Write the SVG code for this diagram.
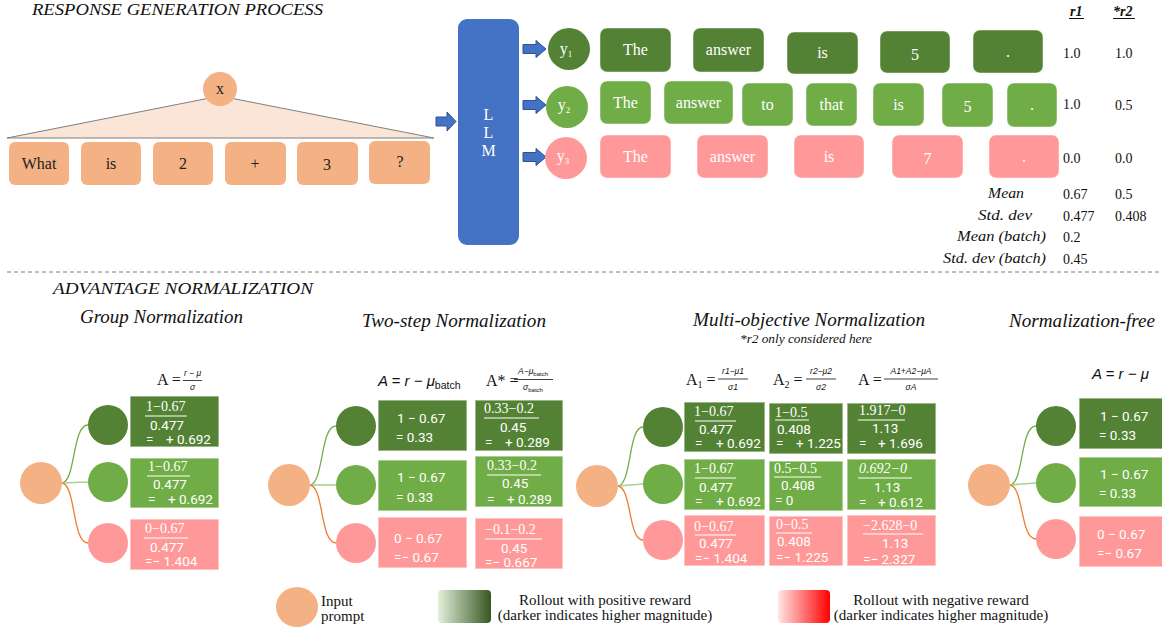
<svg xmlns="http://www.w3.org/2000/svg" width="1162" height="629" viewBox="0 0 1162 629">
<defs>
  <linearGradient id="gPos" x1="0" y1="0" x2="1" y2="0">
    <stop offset="0" stop-color="#E2F0D9"/>
    <stop offset="1" stop-color="#385723"/>
  </linearGradient>
  <linearGradient id="gNeg" x1="0" y1="0" x2="1" y2="0">
    <stop offset="0" stop-color="#FFE6E6"/>
    <stop offset="1" stop-color="#FF0000"/>
  </linearGradient>
</defs>
<style>
  .dg{fill:#548235}
  .lg{fill:#70AD47}
  .pk{fill:#FF9999}
  .or{fill:#F4B183}
  .tok{stroke:#ffffff;stroke-opacity:.45;stroke-width:1}
  .box{stroke:#ffffff;stroke-opacity:.55;stroke-width:1.5}
  .tt{font-family:"Liberation Serif","DejaVu Serif",serif;font-size:16px;fill:#fff;text-anchor:middle}
  .it{font-family:"Liberation Serif","DejaVu Serif",serif;font-size:16px;fill:#222;text-anchor:middle}
  .hd{font-family:"Liberation Serif","DejaVu Serif",serif;font-style:italic;fill:#111}
  .sv{font-family:"Liberation Serif","DejaVu Serif",serif;font-size:14px;fill:#111}
  .num{font-family:"Liberation Serif","DejaVu Serif",serif;font-size:14px;fill:#fff}
  .val{font-family:Roboto,"Liberation Sans",sans-serif;font-size:13.5px;fill:#fff}
  .fl{stroke:#ffffff;stroke-width:1}
  .fk{stroke:#111;stroke-width:.8}
  .fs{font-family:"Liberation Sans",sans-serif;font-style:italic;font-size:8.5px;fill:#111;text-anchor:middle}
  .fa{font-family:"Liberation Serif","DejaVu Serif",serif;font-size:16px;fill:#111}
  .fi{font-family:"Liberation Sans",sans-serif;font-style:italic;font-size:15px;fill:#111}
  .arr{fill:#4472C4;stroke:#2F528F;stroke-width:1}
  .cg{fill:none;stroke:#70AD47;stroke-width:1.3}
  .cm{fill:none;stroke:#A9D18E;stroke-width:1.6}
  .co{fill:none;stroke:#ED7D31;stroke-width:1.3}
  .lt{font-family:"Liberation Serif","DejaVu Serif",serif;font-size:15px;fill:#111}
</style>

<rect width="1162" height="629" fill="#ffffff"/>

<!-- ===== Response generation ===== -->
<text class="hd" x="32" y="15" font-size="17" textLength="291" lengthAdjust="spacingAndGlyphs">RESPONSE GENERATION PROCESS</text>

<g id="prompt-fan">
  <polygon points="7,138 220,96 434,138" fill="#FBE5D6" stroke="#7F7F7F" stroke-width="1"/>
</g>
<g id="node-x">
  <circle class="or" cx="220" cy="89" r="17"/>
  <text class="it" x="220" y="94">x</text>
</g>
<g id="prompt-tokens">
  <rect class="or" x="9" y="142" width="60" height="43" rx="6"/><text class="it" x="39" y="169">What</text>
  <rect class="or" x="81" y="142" width="60" height="43" rx="6"/><text class="it" x="111" y="169">is</text>
  <rect class="or" x="153" y="142" width="60" height="43" rx="6"/><text class="it" x="183" y="169">2</text>
  <rect class="or" x="225" y="142" width="61" height="43" rx="6"/><text class="it" x="255" y="169">+</text>
  <rect class="or" x="297" y="142" width="61" height="43" rx="6"/><text class="it" x="327" y="170">3</text>
  <rect class="or" x="369" y="141" width="61" height="43" rx="6"/><text class="it" x="400" y="167">?</text>
</g>

<g id="node-llm">
  <rect x="458" y="19" width="61" height="226" rx="9" fill="#4472C4"/>
  <text class="tt" x="488.5" y="120">L</text>
  <text class="tt" x="488.5" y="138">L</text>
  <text class="tt" x="488.5" y="156">M</text>
</g>

<g id="connectors-top">
  <polygon class="arr" points="436,117 447,117 447,112 456,121.5 447,131 447,126 436,126"/>
  <polygon class="arr" points="523,44.5 536,44.5 536,40.5 546,49 536,57.5 536,53.5 523,53.5"/>
  <polygon class="arr" points="523,100.5 536,100.5 536,96.5 546,105 536,113.5 536,109.5 523,109.5"/>
  <polygon class="arr" points="523,152.5 536,152.5 536,148.5 546,157 536,165.5 536,161.5 523,161.5"/>
</g>

<g id="node-y1">
  <circle class="dg" cx="569" cy="49" r="21"/>
  <text class="tt" x="566" y="54">y<tspan font-size="9" dy="3">1</tspan></text>
</g>
<g id="node-y2">
  <circle class="lg" cx="567" cy="107" r="21"/>
  <text class="tt" x="564" y="110">y<tspan font-size="9" dy="3">2</tspan></text>
</g>
<g id="node-y3">
  <circle class="pk" cx="566" cy="158" r="21"/>
  <text class="tt" x="563" y="161">y<tspan font-size="9" dy="3">3</tspan></text>
</g>

<g id="tokens-y1">
  <rect class="dg tok" x="600" y="28" width="71" height="44" rx="7"/><text class="tt" x="635.5" y="55">The</text>
  <rect class="dg tok" x="693" y="28" width="71" height="44" rx="7"/><text class="tt" x="728.5" y="55">answer</text>
  <rect class="dg tok" x="787" y="32" width="71" height="42" rx="7"/><text class="tt" x="822.5" y="58">is</text>
  <rect class="dg tok" x="880" y="31" width="70" height="42" rx="7"/><text class="tt" x="915" y="60">5</text>
  <rect class="dg tok" x="973" y="30" width="70" height="43" rx="7"/><text class="tt" x="1008" y="57">.</text>
</g>
<g id="tokens-y2">
  <rect class="lg tok" x="600" y="81" width="51" height="43" rx="7"/><text class="tt" x="625.5" y="108">The</text>
  <rect class="lg tok" x="664" y="81" width="69" height="43" rx="7"/><text class="tt" x="698.5" y="108">answer</text>
  <rect class="lg tok" x="742" y="83" width="51" height="43" rx="7"/><text class="tt" x="767.5" y="110">to</text>
  <rect class="lg tok" x="806" y="83" width="51" height="43" rx="7"/><text class="tt" x="831.5" y="110">that</text>
  <rect class="lg tok" x="873" y="83" width="51" height="43" rx="7"/><text class="tt" x="898.5" y="110">is</text>
  <rect class="lg tok" x="942" y="83" width="51" height="44" rx="7"/><text class="tt" x="967.5" y="112">5</text>
  <rect class="lg tok" x="1007" y="83" width="50" height="44" rx="7"/><text class="tt" x="1032" y="110">.</text>
</g>
<g id="tokens-y3">
  <rect class="pk tok" x="600" y="135" width="71" height="43" rx="7"/><text class="tt" x="635.5" y="162">The</text>
  <rect class="pk tok" x="697" y="135" width="71" height="43" rx="7"/><text class="tt" x="732.5" y="162">answer</text>
  <rect class="pk tok" x="794" y="135" width="70" height="43" rx="7"/><text class="tt" x="829" y="162">is</text>
  <rect class="pk tok" x="892" y="135" width="71" height="43" rx="7"/><text class="tt" x="927.5" y="164">7</text>
  <rect class="pk tok" x="989" y="135" width="70" height="43" rx="7"/><text class="tt" x="1024" y="162">.</text>
</g>

<g id="reward-table">
  <text class="sv" x="1070" y="16" font-weight="bold" font-style="italic">r1</text>
  <line x1="1069" y1="18.5" x2="1084" y2="18.5" stroke="#111" stroke-width="1"/>
  <text class="sv" x="1113" y="16" font-weight="bold" font-style="italic">*r2</text>
  <line x1="1113" y1="18.5" x2="1135" y2="18.5" stroke="#111" stroke-width="1"/>
  <text class="sv" x="1063" y="58">1.0</text><text class="sv" x="1115" y="58">1.0</text>
  <text class="sv" x="1063" y="109">1.0</text><text class="sv" x="1115" y="110">0.5</text>
  <text class="sv" x="1063" y="163">0.0</text><text class="sv" x="1115" y="163">0.0</text>
  <text class="sv" x="988" y="198" font-style="italic" font-size="15" textLength="36" lengthAdjust="spacingAndGlyphs">Mean</text>
  <text class="sv" x="978" y="220" font-style="italic" font-size="15" textLength="54" lengthAdjust="spacingAndGlyphs">Std. dev</text>
  <text class="sv" x="957" y="241" font-style="italic" font-size="15" textLength="89" lengthAdjust="spacingAndGlyphs">Mean (batch)</text>
  <text class="sv" x="943" y="263" font-style="italic" font-size="15" textLength="103" lengthAdjust="spacingAndGlyphs">Std. dev (batch)</text>
  <text class="sv" x="1063" y="199">0.67</text><text class="sv" x="1115" y="199">0.5</text>
  <text class="sv" x="1063" y="221">0.477</text><text class="sv" x="1115" y="221">0.408</text>
  <text class="sv" x="1063" y="242">0.2</text>
  <text class="sv" x="1063" y="264">0.45</text>
</g>

<line x1="7" y1="272" x2="1160" y2="272" stroke="#7F7F7F" stroke-width="1" stroke-dasharray="4,3"/>

<!-- ===== Advantage normalization ===== -->
<text class="hd" x="53" y="294" font-size="17" textLength="260" lengthAdjust="spacingAndGlyphs">ADVANTAGE NORMALIZATION</text>
<text class="hd" x="80" y="323" font-size="18" textLength="163" lengthAdjust="spacingAndGlyphs">Group Normalization</text>
<text class="hd" x="362" y="327" font-size="18" textLength="184" lengthAdjust="spacingAndGlyphs">Two-step Normalization</text>
<text class="hd" x="693" y="326" font-size="18" textLength="232" lengthAdjust="spacingAndGlyphs">Multi-objective Normalization</text>
<text class="hd" x="740" y="343" font-size="12" textLength="132" lengthAdjust="spacingAndGlyphs">*r2 only considered here</text>
<text class="hd" x="1009" y="327" font-size="18" textLength="146" lengthAdjust="spacingAndGlyphs">Normalization-free</text>

<!-- connectors of the four panels -->
<g id="connectors">
  <path class="cg" d="M62,483 C76,481 72,425 88,425"/>
  <path class="cm" d="M62,483 L88,482"/>
  <path class="co" d="M62,483 C76,485 72,543 88,543"/>

  <path class="cg" d="M310,485 C324,483 320,426 336,426"/>
  <path class="cm" d="M310,485 L336,485"/>
  <path class="co" d="M310,485 C324,487 320,543 336,543"/>

  <path class="cg" d="M618,486 C632,484 628,427 643,427"/>
  <path class="cm" d="M618,486 L643,484"/>
  <path class="co" d="M618,486 C632,488 628,540 643,540"/>

  <path class="cg" d="M1010,485 C1024,483 1020,426 1036,426"/>
  <path class="cm" d="M1010,485 L1036,483"/>
  <path class="co" d="M1010,485 C1024,487 1020,539 1036,539"/>
</g>

<!-- Group normalization -->
<g id="group-input"><circle class="or" cx="41" cy="483" r="21"/></g>
<g id="group-y1"><circle class="dg" cx="108" cy="425" r="20"/></g>
<g id="group-y2"><circle class="lg" cx="108" cy="482" r="20"/></g>
<g id="group-y3"><circle class="pk" cx="108" cy="543" r="20"/></g>
<g id="group-formula">
  <text class="fa" x="157" y="385">A =</text>
  <line class="fk" x1="183" y1="380.5" x2="202" y2="380.5"/>
  <text class="fs" x="192.5" y="376">r − μ</text>
  <text class="fs" x="192.5" y="390">σ</text>
</g>
<g id="group-a1">
  <rect class="dg box" x="130" y="396" width="89" height="51"/>
  <text class="num" x="146" y="411">1−0.67</text>
  <line class="fl" x1="145" y1="416" x2="187" y2="416"/>
  <text class="val" x="150" y="430">0.477</text>
  <text class="val" x="146" y="444">=</text><text class="val" x="166" y="444">+ 0.692</text>
</g>
<g id="group-a2">
  <rect class="lg box" x="130" y="458" width="89" height="50"/>
  <text class="num" x="148" y="471">1−0.67</text>
  <line class="fl" x1="147" y1="476" x2="190" y2="476"/>
  <text class="val" x="153" y="489">0.477</text>
  <text class="val" x="148" y="504">=</text><text class="val" x="168" y="504">+ 0.692</text>
</g>
<g id="group-a3">
  <rect class="pk box" x="130" y="519" width="89" height="51"/>
  <text class="num" x="145" y="533">0−0.67</text>
  <line class="fl" x1="144" y1="538" x2="188" y2="538"/>
  <text class="val" x="150" y="552">0.477</text>
  <text class="val" x="145" y="566">=− 1.404</text>
</g>

<!-- Two-step normalization -->
<g id="two-input"><circle class="or" cx="289" cy="485" r="21"/></g>
<g id="two-y1"><circle class="dg" cx="356" cy="426" r="20"/></g>
<g id="two-y2"><circle class="lg" cx="356" cy="485" r="20"/></g>
<g id="two-y3"><circle class="pk" cx="356" cy="543" r="20"/></g>
<g id="two-formula">
  <text class="fi" x="378" y="386">A = r − μ<tspan font-style="normal" font-size="10.5" dy="3">batch</tspan></text>
  <text class="fa" x="486" y="386">A* =</text>
  <line class="fk" x1="514" y1="379.5" x2="553" y2="379.5"/>
  <text class="fs" x="533" y="374">A−μ<tspan font-style="normal" font-size="6" dy="2">batch</tspan></text>
  <text class="fs" x="533" y="390">σ<tspan font-style="normal" font-size="6" dy="2">batch</tspan></text>
</g>
<g id="two-a1">
  <rect class="dg box" x="378" y="400" width="89" height="51"/>
  <text class="val" x="397" y="423">1 − 0.67</text>
  <text class="val" x="396" y="442">= 0.33</text>
</g>
<g id="two-a2">
  <rect class="lg box" x="378" y="460" width="89" height="51"/>
  <text class="val" x="397" y="482">1 − 0.67</text>
  <text class="val" x="396" y="502">= 0.33</text>
</g>
<g id="two-a3">
  <rect class="pk box" x="378" y="517" width="89" height="51"/>
  <text class="val" x="394" y="543">0 − 0.67</text>
  <text class="val" x="394" y="562">=− 0.67</text>
</g>
<g id="two-b1">
  <rect class="dg box" x="475" y="400" width="88" height="51"/>
  <text class="num" x="484" y="413">0.33−0.2</text>
  <line class="fl" x1="484" y1="418" x2="539" y2="418"/>
  <text class="val" x="500" y="432">0.45</text>
  <text class="val" x="485" y="447">=</text><text class="val" x="505" y="447">+ 0.289</text>
</g>
<g id="two-b2">
  <rect class="lg box" x="475" y="456" width="88" height="51"/>
  <text class="num" x="487" y="470">0.33−0.2</text>
  <line class="fl" x1="487" y1="475" x2="541" y2="475"/>
  <text class="val" x="502" y="488">0.45</text>
  <text class="val" x="487" y="504">=</text><text class="val" x="507" y="504">+ 0.289</text>
</g>
<g id="two-b3">
  <rect class="pk box" x="475" y="518" width="88" height="51"/>
  <text class="num" x="485" y="534">−0.1−0.2</text>
  <line class="fl" x1="485" y1="539" x2="542" y2="539"/>
  <text class="val" x="501" y="553">0.45</text>
  <text class="val" x="485" y="567">=− 0.667</text>
</g>

<!-- Multi-objective normalization -->
<g id="multi-input"><circle class="or" cx="597" cy="486" r="21"/></g>
<g id="multi-y1"><circle class="dg" cx="663" cy="427" r="20"/></g>
<g id="multi-y2"><circle class="lg" cx="663" cy="484" r="20"/></g>
<g id="multi-y3"><circle class="pk" cx="663" cy="540" r="20"/></g>
<g id="multi-formula">
  <text class="fa" x="686" y="385">A<tspan font-size="10" dy="3">1</tspan><tspan dy="-3"> =</tspan></text>
  <line class="fk" x1="718" y1="379" x2="748" y2="379"/>
  <text class="fs" x="733" y="374">r1−μ1</text>
  <text class="fs" x="733" y="390">σ1</text>
  <text class="fa" x="773" y="385">A<tspan font-size="10" dy="3">2</tspan><tspan dy="-3"> =</tspan></text>
  <line class="fk" x1="806" y1="379" x2="836" y2="379"/>
  <text class="fs" x="821" y="374">r2−μ2</text>
  <text class="fs" x="821" y="390">σ2</text>
  <text class="fa" x="858" y="385">A =</text>
  <line class="fk" x1="884" y1="379" x2="938" y2="379"/>
  <text class="fs" x="911" y="374">A1+A2−μA</text>
  <text class="fs" x="911" y="390">σA</text>
</g>
<g id="multi-a1-1">
  <rect class="dg box" x="684" y="402" width="81" height="50"/>
  <text class="num" x="694" y="416">1−0.67</text>
  <line class="fl" x1="695" y1="421" x2="736" y2="421"/>
  <text class="val" x="699" y="434">0.477</text>
  <text class="val" x="695" y="448">=</text><text class="val" x="716" y="448">+ 0.692</text>
</g>
<g id="multi-a1-2">
  <rect class="lg box" x="684" y="459" width="81" height="51"/>
  <text class="num" x="694" y="473">1−0.67</text>
  <line class="fl" x1="695" y1="478" x2="736" y2="478"/>
  <text class="val" x="699" y="492">0.477</text>
  <text class="val" x="695" y="506">=</text><text class="val" x="716" y="506">+ 0.692</text>
</g>
<g id="multi-a1-3">
  <rect class="pk box" x="684" y="515" width="81" height="51"/>
  <text class="num" x="694" y="531">0−0.67</text>
  <line class="fl" x1="695" y1="535" x2="736" y2="535"/>
  <text class="val" x="699" y="548">0.477</text>
  <text class="val" x="695" y="563">=− 1.404</text>
</g>
<g id="multi-a2-1">
  <rect class="dg box" x="769" y="403" width="74" height="51"/>
  <text class="num" x="775" y="417">1−0.5</text>
  <line class="fl" x1="775" y1="420" x2="809" y2="420"/>
  <text class="val" x="777" y="434">0.408</text>
  <text class="val" x="776" y="448">=</text><text class="val" x="796" y="448">+ 1.225</text>
</g>
<g id="multi-a2-2">
  <rect class="lg box" x="769" y="461" width="74" height="50"/>
  <text class="num" x="774" y="473">0.5−0.5</text>
  <line class="fl" x1="774" y1="477" x2="821" y2="477"/>
  <text class="val" x="781" y="490">0.408</text>
  <text class="val" x="775" y="505">= 0</text>
</g>
<g id="multi-a2-3">
  <rect class="pk box" x="769" y="516" width="74" height="50"/>
  <text class="num" x="776" y="529">0−0.5</text>
  <line class="fl" x1="776" y1="533" x2="812" y2="533"/>
  <text class="val" x="777" y="546">0.408</text>
  <text class="val" x="776" y="562">=− 1.225</text>
</g>
<g id="multi-a-1">
  <rect class="dg box" x="847" y="403" width="89" height="51"/>
  <text class="num" x="859" y="415">1.917−0</text>
  <line class="fl" x1="858" y1="420" x2="905" y2="420"/>
  <text class="val" x="872" y="433">1.13</text>
  <text class="val" x="859" y="448">=</text><text class="val" x="878" y="448">+ 1.696</text>
</g>
<g id="multi-a-2">
  <rect class="lg box" x="847" y="459" width="89" height="51"/>
  <text class="num" x="859" y="473" font-style="italic">0.692−0</text>
  <line class="fl" x1="858" y1="478" x2="912" y2="478"/>
  <text class="val" x="874" y="492">1.13</text>
  <text class="val" x="859" y="507">=</text><text class="val" x="878" y="507">+ 0.612</text>
</g>
<g id="multi-a-3">
  <rect class="pk box" x="847" y="515" width="89" height="51"/>
  <text class="num" x="863" y="530">−2.628−0</text>
  <line class="fl" x1="863" y1="534" x2="923" y2="534"/>
  <text class="val" x="882" y="548">1.13</text>
  <text class="val" x="863" y="564">=− 2.327</text>
</g>

<!-- Normalization-free -->
<g id="free-input"><circle class="or" cx="989" cy="485" r="21"/></g>
<g id="free-y1"><circle class="dg" cx="1056" cy="426" r="20"/></g>
<g id="free-y2"><circle class="lg" cx="1056" cy="483" r="20"/></g>
<g id="free-y3"><circle class="pk" cx="1056" cy="539" r="20"/></g>
<g id="free-formula">
  <text class="fi" x="1092" y="379" font-size="14">A = r − μ</text>
</g>
<g id="free-a1">
  <rect class="dg box" x="1079" y="398" width="90" height="51"/>
  <text class="val" x="1100" y="421">1 − 0.67</text>
  <text class="val" x="1099" y="440">= 0.33</text>
</g>
<g id="free-a2">
  <rect class="lg box" x="1079" y="457" width="90" height="50"/>
  <text class="val" x="1100" y="479">1 − 0.67</text>
  <text class="val" x="1099" y="498">= 0.33</text>
</g>
<g id="free-a3">
  <rect class="pk box" x="1079" y="516" width="90" height="51"/>
  <text class="val" x="1097" y="539">0 − 0.67</text>
  <text class="val" x="1097" y="558">=− 0.67</text>
</g>

<!-- Legend -->
<g id="legend">
  <ellipse class="or" cx="297" cy="607" rx="21" ry="20"/>
  <text class="lt" x="321" y="606">Input</text>
  <text class="lt" x="321" y="621">prompt</text>
  <rect x="438" y="590" width="53" height="33" rx="4" fill="url(#gPos)"/>
  <text class="lt" x="605" y="605" text-anchor="middle">Rollout with positive reward</text>
  <text class="lt" x="605" y="620" text-anchor="middle">(darker indicates higher magnitude)</text>
  <rect x="778" y="590" width="52" height="33" rx="4" fill="url(#gNeg)"/>
  <text class="lt" x="941" y="605" text-anchor="middle">Rollout with negative reward</text>
  <text class="lt" x="941" y="620" text-anchor="middle">(darker indicates higher magnitude)</text>
</g>
</svg>
